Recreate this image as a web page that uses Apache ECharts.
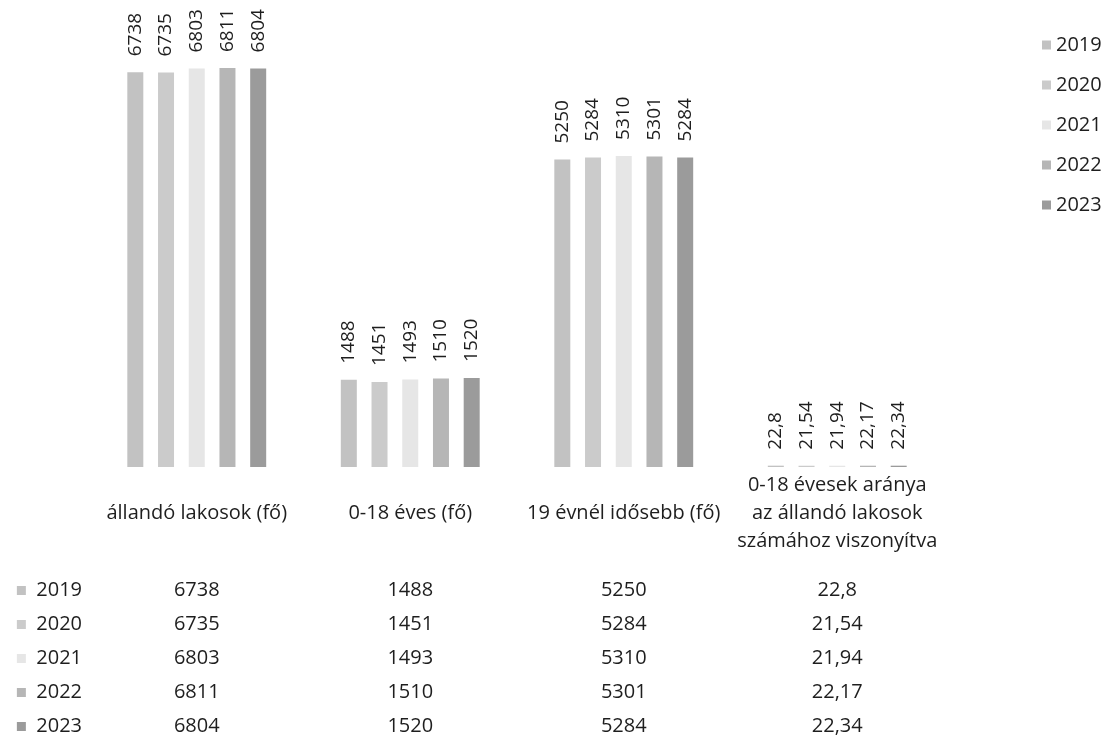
<!DOCTYPE html>
<html>
<head>
<meta charset="utf-8">
<style>
html,body{margin:0;padding:0;background:#fff;}
#main{width:1112px;height:748px;}
</style>
<script src="https://cdn.jsdelivr.net/npm/echarts@6/dist/echarts.min.js"></script>
</head>
<body>
<div id="main"></div>
<script>
const categories = ['állandó lakosok (fő)', '0-18 éves (fő)', '19 évnél idősebb (fő)', '0-18 évesek aránya\naz állandó lakosok\nszámához viszonyítva'];
const years = ['2019', '2020', '2021', '2022', '2023'];
const v2019 = [6738, 1488, 5250, 22.8];
const v2020 = [6735, 1451, 5284, 21.54];
const v2021 = [6803, 1493, 5310, 21.94];
const v2022 = [6811, 1510, 5301, 22.17];
const v2023 = [6804, 1520, 5284, 22.34];
const seriesValues = [v2019, v2020, v2021, v2022, v2023];
const colors = ['#c2c2c2', '#cbcbcb', '#e6e6e6', '#b6b6b6', '#9b9b9b'];

const FONT = 'Open Sans';
const TXT = '#1e1e1e';
const FS = 20;
const fmt = v => String(v).replace('.', ',');

const chart = echarts.init(document.getElementById('main'));

const xAxes = [{
  type: 'category',
  data: categories,
  gridIndex: 0,
  position: 'bottom',
  axisLine: {show: false},
  axisTick: {show: false},
  axisLabel: {
    interval: 0, margin: 46, verticalAlign: 'middle', lineHeight: 28,
    fontSize: FS, fontFamily: FONT, color: TXT
  }
}];
years.forEach((y, i) => {
  xAxes.push({
    type: 'category',
    data: categories,
    gridIndex: 0,
    position: 'bottom',
    offset: 123.5 + i * 34,
    axisLine: {show: false},
    axisTick: {show: false},
    axisLabel: {
      interval: 0, margin: 0, verticalAlign: 'middle',
      fontSize: FS, fontFamily: FONT, color: TXT,
      formatter: (v, idx) => fmt(seriesValues[i][idx])
    },
    name: '{sq|}  ' + y,
    nameLocation: 'start',
    nameGap: 8,
    nameTextStyle: {
      fontSize: FS, fontFamily: FONT, color: TXT, verticalAlign: 'middle',
      rich: {sq: {width: 9, height: 9, backgroundColor: colors[i]}}
    }
  });
});

chart.setOption({
  animation: false,
  backgroundColor: '#fff',
  color: colors,
  grid: {left: 90, right: 168, top: 57, bottom: 281},
  legend: {
    orient: 'vertical',
    left: 1037, top: 30,
    itemWidth: 9, itemHeight: 9, itemGap: 20,
    icon: 'rect',
    data: years,
    textStyle: {fontSize: FS, fontFamily: FONT, color: TXT}
  },
  xAxis: xAxes,
  yAxis: {type: 'value', min: 0, max: 7000, show: false},
  series: years.map((y, i) => ({
    name: y,
    type: 'bar',
    xAxisIndex: 0,
    barWidth: 16,
    barGap: '92%',
    data: seriesValues[i],
    itemStyle: {color: colors[i]},
    label: {
      show: true, position: 'top', rotate: 90, align: 'left', verticalAlign: 'middle',
      distance: 16, fontSize: 19, fontFamily: FONT, color: TXT,
      formatter: p => fmt(p.value)
    }
  }))
});
</script>
</body>
</html>
